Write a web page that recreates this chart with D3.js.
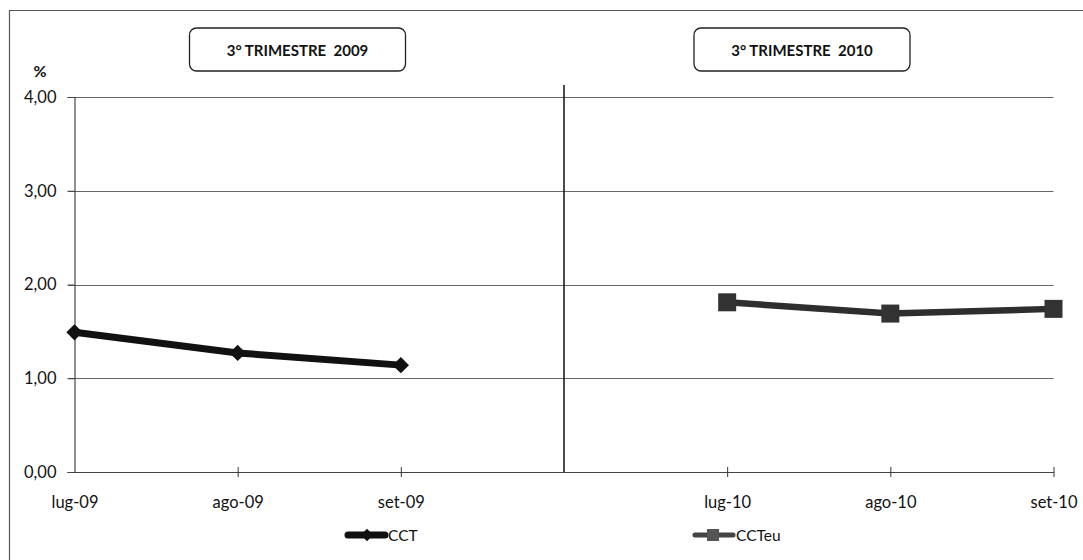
<!DOCTYPE html>
<html>
<head>
<meta charset="utf-8">
<script src="https://cdn.jsdelivr.net/npm/d3@7"></script>
<style>
    body { margin: 0; background: #fff; font-family: Lato, "Open Sans", sans-serif; }
    svg text { fill: #111; white-space: pre; }
</style>
</head>
<body>
<script>
    // chart data
    var months = ["lug-09", "ago-09", "set-09", "", "lug-10", "ago-10", "set-10"];
    var cctMonths = ["lug-09", "ago-09", "set-09"];
    var cctValues = [1.49, 1.27, 1.14];
    var ccteuMonths = ["lug-10", "ago-10", "set-10"];
    var ccteuValues = [1.81, 1.69, 1.74];
    var yTicks = [0, 1, 2, 3, 4];
    var panelTitles = ["3° TRIMESTRE  2009", "3° TRIMESTRE  2010"];

    var W = 1083, H = 560;
    var svg = d3.select("body").append("svg")
        .attr("width", W).attr("height", H);

    // outer frame (top + left only visible)
    svg.append("path")
        .attr("d", "M9.5,560 V10.5 H1083")
        .attr("fill", "none").attr("stroke", "#555").attr("stroke-width", 1.2);

    var x = d3.scalePoint().domain(months).range([74.5, 1053.5]);
    var y = d3.scaleLinear().domain([0, 4]).range([472, 97]);

    // gridlines
    svg.append("g").selectAll("line")
        .data(yTicks.filter(d => d > 0))
        .enter().append("line")
        .attr("x1", 68).attr("x2", x("set-10"))
        .attr("y1", d => Math.round(y(d)) + 0.5).attr("y2", d => Math.round(y(d)) + 0.5)
        .attr("stroke", "#666").attr("stroke-width", 1);

    // y axis
    var yAxis = d3.axisLeft(y).tickValues(yTicks).tickSize(7).tickPadding(11)
        .tickFormat(d => d3.format(".2f")(d).replace(".", ","));
    var gy = svg.append("g").attr("transform", "translate(" + x("lug-09") + ",0)").call(yAxis);
    gy.select(".domain").attr("stroke", "#222");
    gy.selectAll(".tick line").attr("stroke", "#444");
    gy.selectAll("text").attr("font-size", 16.5).attr("font-family", "Lato, sans-serif");

    svg.append("text").text("%")
        .attr("x", 40).attr("y", 77).attr("text-anchor", "middle")
        .attr("font-size", 16).attr("font-weight", "bold");

    // x axis
    var xAxis = d3.axisBottom(x).tickSize(0).tickPadding(24);
    var gx = svg.append("g").attr("transform", "translate(0," + y(0) + ")").call(xAxis);
    gx.select(".domain").attr("stroke", "#444");
    gx.selectAll("text").attr("font-size", 16.5).attr("font-family", "Lato, sans-serif");
    gx.selectAll(".tick").filter(d => d !== "" && d !== "lug-09")
        .append("line").attr("y1", -5).attr("y2", 5).attr("stroke", "#333");
    gx.selectAll(".tick").filter(d => d === "").select("text").remove();

    // divider between the two periods
    svg.append("line")
        .attr("x1", x("")).attr("x2", x(""))
        .attr("y1", 85).attr("y2", y(0))
        .attr("stroke", "#111").attr("stroke-width", 1.5);

    // panel title boxes
    var boxes = [{cx: 297.5, t: panelTitles[0]}, {cx: 802, t: panelTitles[1]}];
    boxes.forEach(function (b) {
        svg.append("rect")
            .attr("x", b.cx - 108).attr("y", 28).attr("width", 216).attr("height", 43)
            .attr("rx", 7).attr("fill", "#fff").attr("stroke", "#222").attr("stroke-width", 1.3);
        svg.append("text").text(b.t)
            .attr("x", b.cx).attr("y", 56).attr("text-anchor", "middle")
            .attr("font-size", 15).attr("font-weight", "bold");
    });

    var line = d3.line();

    // CCT series
    var cctPts = cctMonths.map((m, i) => [x(m), y(cctValues[i])]);
    svg.append("path").attr("d", line(cctPts))
        .attr("fill", "none").attr("stroke", "#111").attr("stroke-width", 7);
    var diamond = d3.symbol().type(d3.symbolDiamond2).size(170);
    svg.append("g").selectAll("path").data(cctPts).enter().append("path")
        .attr("d", diamond).attr("transform", d => "translate(" + d + ")")
        .attr("fill", "#111");

    // CCTeu series
    var euPts = ccteuMonths.map((m, i) => [x(m), y(ccteuValues[i])]);
    svg.append("path").attr("d", line(euPts))
        .attr("fill", "none").attr("stroke", "#2e2e2e").attr("stroke-width", 6.5);
    svg.append("g").selectAll("rect").data(euPts).enter().append("rect")
        .attr("x", d => d[0] - 9).attr("y", d => d[1] - 9)
        .attr("width", 18).attr("height", 18).attr("fill", "#333");

    // legend
    var lg1 = svg.append("g");
    lg1.append("line").attr("x1", 348).attr("x2", 385).attr("y1", 535).attr("y2", 535)
        .attr("stroke", "#111").attr("stroke-width", 7).attr("stroke-linecap", "round");
    lg1.append("path").attr("d", d3.symbol().type(d3.symbolDiamond2).size(100))
        .attr("transform", "translate(367,535)").attr("fill", "#111");
    lg1.append("text").text("CCT").attr("x", 388).attr("y", 541).attr("font-size", 15.5);

    var lg2 = svg.append("g");
    lg2.append("line").attr("x1", 695).attr("x2", 733).attr("y1", 535).attr("y2", 535)
        .attr("stroke", "#444").attr("stroke-width", 5).attr("stroke-linecap", "round");
    lg2.append("rect").attr("x", 707).attr("y", 529).attr("width", 12).attr("height", 12)
        .attr("fill", "#555");
    lg2.append("text").text("CCTeu").attr("x", 736).attr("y", 541).attr("font-size", 15.5);
</script>
</body>
</html>
